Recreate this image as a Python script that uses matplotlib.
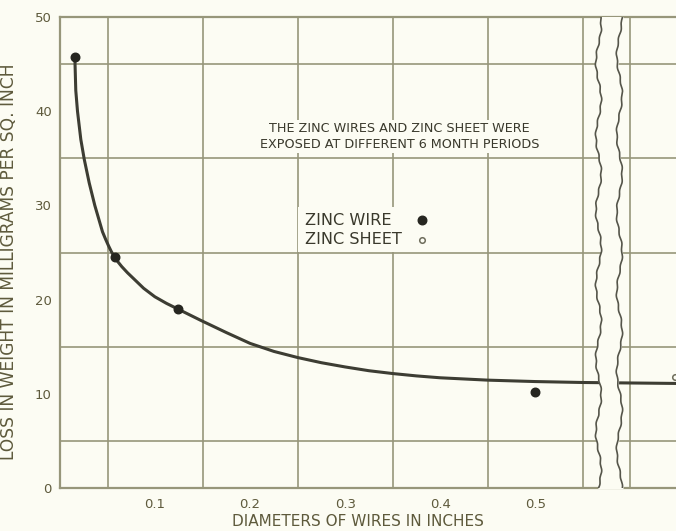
import numpy as np
import matplotlib
matplotlib.use("Agg")
import matplotlib.pyplot as plt
from matplotlib.patches import Rectangle

# data
curve_d = [0.0156, 0.0166, 0.0184, 0.0219, 0.0255, 0.0307, 0.0366, 0.0447, 0.048,
           0.0511, 0.054, 0.0574, 0.061, 0.065, 0.071, 0.0777, 0.088, 0.0998,
           0.112, 0.124, 0.148, 0.175, 0.200, 0.225, 0.250, 0.275, 0.300,
           0.325, 0.350, 0.375, 0.400, 0.450, 0.500, 0.550, 0.648]
curve_loss = [45.8, 42.2, 40.0, 37.0, 34.9, 32.4, 30.0, 27.2, 26.4,
              25.7, 25.1, 24.5, 24.0, 23.5, 22.85, 22.2, 21.2, 20.3,
              19.6, 19.0, 17.8, 16.5, 15.35, 14.5, 13.85, 13.3, 12.85,
              12.45, 12.15, 11.9, 11.7, 11.45, 11.3, 11.2, 11.1]
wire_d = [0.0156, 0.0574, 0.124, 0.500]
wire_loss = [45.8, 24.5, 19.0, 10.2]
sheet_d = [0.647]
sheet_loss = [11.8]
x_ticks = [0.1, 0.2, 0.3, 0.4, 0.5]
x_tick_labels = ["0.1", "0.2", "0.3", "0.4", "0.5"]
y_ticks = [0, 10, 20, 30, 40, 50]
legend_labels = ["ZINC WIRE", "ZINC SHEET"]

bg = "#fcfcf3"
grid_c = "#97967a"
ink = "#3a392c"
label_c = "#5e5a3c"

plt.rcParams['font.family'] = ['DejaVu Sans']

fig = plt.figure(figsize=(6.76, 5.31), dpi=100, facecolor=bg)
ax = fig.add_axes([60 / 676, 1 - 488 / 531, 616 / 676, 471 / 531], facecolor=bg)

ax.set_xlim(0, 0.648)
ax.set_ylim(0, 50)

# grid every 0.05 / 5
ax.set_xticks(x_ticks)
ax.set_xticklabels(x_tick_labels)
ax.set_yticks(y_ticks)
ax.set_xticks(np.arange(0, 0.65, 0.05), minor=True)
ax.set_yticks(np.arange(0, 51, 5), minor=True)
ax.grid(which='minor', color=grid_c, lw=1.2)
ax.set_axisbelow(True)
ax.tick_params(which='both', length=0)
ax.tick_params(axis='x', pad=7, labelsize=9.5, labelcolor=label_c)
ax.tick_params(axis='y', pad=6, labelsize=9.5, labelcolor=label_c)

for s in ['left', 'bottom', 'top']:
    ax.spines[s].set_color(grid_c)
    ax.spines[s].set_linewidth(1.6)
ax.spines['right'].set_visible(False)

# curve and points
ax.plot(curve_d, curve_loss, color="#3d3d33", lw=2.2, zorder=2,
        solid_capstyle='round', solid_joinstyle='round')
wire_style = dict(s=38, color="#262620")
sheet_style = dict(s=16, facecolor=bg, edgecolor="#6e6d5c", lw=1.1)
ax.scatter(wire_d, wire_loss, zorder=5, **wire_style)
ax.scatter(sheet_d, sheet_loss, zorder=5, clip_on=False, **sheet_style)

# axis break
ys = np.linspace(0, 50, 400)
left = 0.5665 + 0.0028 * np.sin(ys * 0.8) + 0.0006 * np.sin(ys * 4.3)
right = 0.5885 + 0.0028 * np.sin(ys * 0.75 + 1.7) + 0.0006 * np.sin(ys * 3.9 + 0.5)
ax.fill_betweenx(ys, left, right, color=bg, zorder=3)
ax.plot(left, ys, color="#55554a", lw=1.2, zorder=4)
ax.plot(right, ys, color="#55554a", lw=1.2, zorder=4)

# note
ax.text(0.357, 37.3, "THE ZINC WIRES AND ZINC SHEET WERE\nEXPOSED AT DIFFERENT 6 MONTH PERIODS",
        ha='center', va='center', fontsize=9.2, color=ink, linespacing=1.35,
        bbox=dict(facecolor=bg, edgecolor='none', pad=1.5), zorder=3)

# hand-made key: labels left, symbols right
ax.add_patch(Rectangle((0.386, 0.501), 0.226, 0.096, transform=ax.transAxes,
                       facecolor=bg, edgecolor='none', zorder=1))
key_y = [0.569, 0.527]
for lab, ky, st in zip(legend_labels, key_y, [wire_style, sheet_style]):
    ax.text(0.398, ky, lab, transform=ax.transAxes, ha='left', va='center',
            fontsize=11.6, color=ink, zorder=3)
    ax.scatter([0.588], [ky], transform=ax.transAxes, zorder=5, **st)

ax.set_xlabel("DIAMETERS OF WIRES IN INCHES", fontsize=11, color=label_c)
ax.set_ylabel("LOSS IN WEIGHT IN MILLIGRAMS PER SQ. INCH", fontsize=12.3, color=label_c)
ax.xaxis.set_label_coords(0.484, -0.056)
ax.yaxis.set_label_coords(-0.068, 0.48)

fig.savefig("out.png", dpi=100, facecolor=bg)
